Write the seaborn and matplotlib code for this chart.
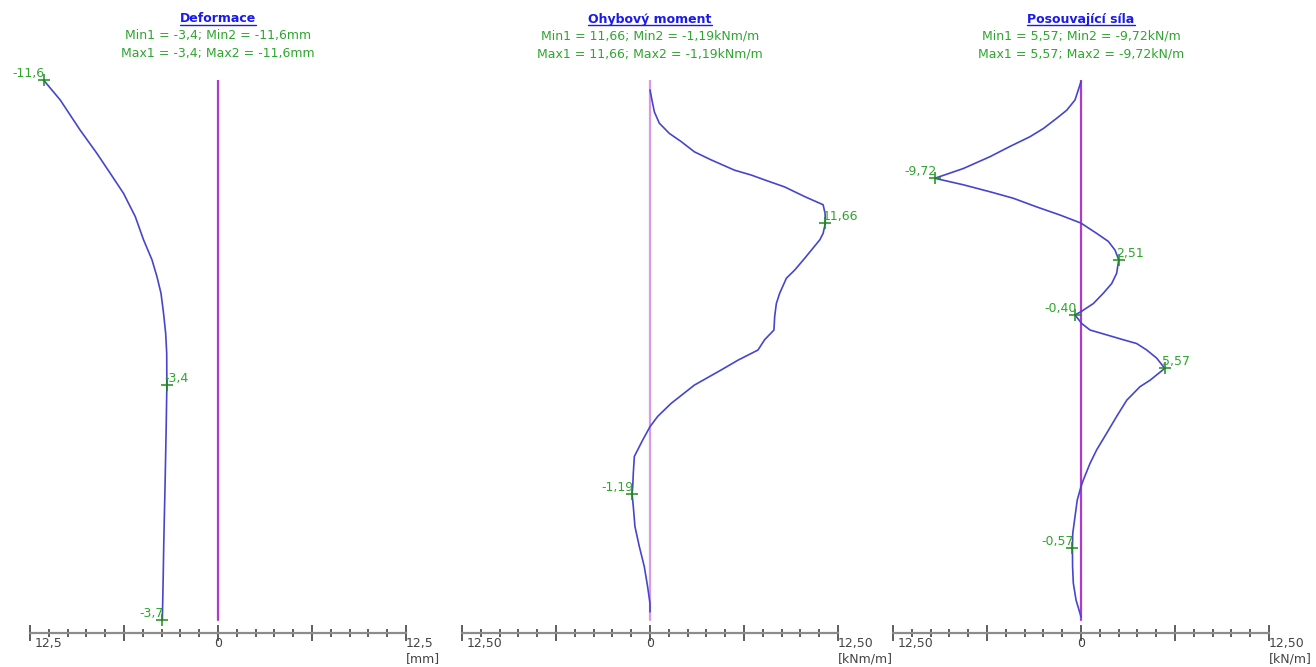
import numpy as np
import pandas as pd
import seaborn as sns
import matplotlib.pyplot as plt
from matplotlib.lines import Line2D
from matplotlib.ticker import MultipleLocator

# hloubka (relativni, 0 = hlava steny)
def_depth = [0.0, 0.37, 0.93, 1.36, 1.73, 2.10, 2.53, 2.96, 3.33, 3.64, 3.95, 4.32, 4.69, 5.06, 5.65,
             6.5, 7.5, 8.5, 9.3, 10.0]
def_val = [-11.6, -10.49, -9.16, -8.05, -7.16, -6.28, -5.5, -4.95, -4.39, -4.06, -3.79, -3.62, -3.48, -3.41, -3.4,
           -3.45, -3.52, -3.6, -3.65, -3.7]

mom_depth = [0.185, 0.37, 0.59, 0.80, 0.99, 1.14, 1.33, 1.48, 1.67, 1.76, 1.85, 1.98, 2.16, 2.31, 2.47, 2.65,
             2.84, 2.96, 3.15, 3.30, 3.52, 3.67, 3.95, 4.14, 4.38, 4.63, 4.81, 5.0, 5.19, 5.37, 5.65, 5.99,
             6.23, 6.42, 6.67, 6.85, 6.97, 7.28, 7.53, 7.67, 7.90, 8.27, 8.64, 9.01, 9.38, 9.69, 9.85]
mom_val = [0.0, 0.13, 0.29, 0.62, 1.29, 2.07, 2.95, 4.07, 5.62, 6.73, 7.62, 8.95, 10.29, 11.51, 11.64, 11.66,
           11.51, 11.29, 10.73, 10.29, 9.62, 9.07, 8.62, 8.4, 8.29, 8.24, 7.62, 7.18, 5.84, 4.73, 2.95, 1.4,
           0.51, 0.0, -0.49, -0.82, -1.04, -1.11, -1.15, -1.19, -1.11, -1.0, -0.71, -0.38, -0.16, 0.0, 0.0]

shr_depth = [0.03, 0.185, 0.37, 0.56, 0.71, 0.90, 1.05, 1.23, 1.42, 1.64, 1.82, 1.94, 2.07, 2.19, 2.35, 2.5,
             2.65, 2.84, 2.99, 3.15, 3.33, 3.58, 3.77, 3.95, 4.14, 4.29, 4.35, 4.51, 4.63, 4.72, 4.81, 4.88,
             5.0, 5.15, 5.34, 5.56, 5.68, 5.93, 6.23, 6.54, 6.85, 7.1, 7.41, 7.53, 7.78, 8.09, 8.4, 8.67,
             9.01, 9.32, 9.63, 9.94]
shr_val = [0.0, -0.18, -0.4, -0.95, -1.62, -2.51, -3.39, -4.72, -6.05, -7.83, -9.72, -7.83, -6.05, -4.5, -2.95,
           -1.4, 0.0, 1.04, 1.82, 2.26, 2.51, 2.37, 2.04, 1.48, 0.82, 0.0, -0.40, 0.05, 0.6, 1.71, 2.81, 3.7,
           4.37, 5.03, 5.57, 4.59, 3.92, 3.04, 2.37, 1.71, 1.04, 0.6, 0.15, 0.0, -0.25, -0.4, -0.55, -0.57,
           -0.56, -0.51, -0.33, 0.0]

# vyznacene extremy: hloubka, hodnota, popisek, strana popisku
def_marks = [(0.0, -11.6, '-11,6', 'l'), (5.65, -3.4, '-3,4', 'r'), (10.0, -3.7, '-3,7', 'l')]
mom_marks = [(2.65, 11.66, '11,66', 'r'), (7.67, -1.19, '-1,19', 'l')]
shr_marks = [(1.82, -9.72, '-9,72', 'l'), (3.33, 2.51, '2,51', 'r'), (4.35, -0.40, '-0,40', 'l'),
             (5.34, 5.57, '5,57', 'r'), (8.67, -0.57, '-0,57', 'l')]

titles = ['Deformace', 'Ohybový moment', 'Posouvající síla']
min_lines = ['Min1 = -3,4; Min2 = -11,6mm', 'Min1 = 11,66; Min2 = -1,19kNm/m', 'Min1 = 5,57; Min2 = -9,72kN/m']
max_lines = ['Max1 = -3,4; Max2 = -11,6mm', 'Max1 = 11,66; Max2 = -1,19kNm/m', 'Max1 = 5,57; Max2 = -9,72kN/m']
units = ['[mm]', '[kNm/m]', '[kN/m]']
end_labels = ['12,5', '12,50', '12,50']
x_limit = 12.5
wall_length = 10.0

sns.set_style("white")
plt.rcParams['font.family'] = ['DejaVu Sans']
plt.rcParams['font.size'] = 9

GREEN = '#2fa52f'
CURVE = '#4646cc'
wall_colors = ['#b03ad0', '#d79ae6', '#b03ad0']

fig = plt.figure(figsize=(13.16, 6.67), dpi=100)
lefts = [30 / 1316, 462 / 1316, 893 / 1316]
ax_w = 376 / 1316
ax_b = (667 - 633) / 667
ax_h = 553 / 667

panels = [(def_depth, def_val, def_marks), (mom_depth, mom_val, mom_marks), (shr_depth, shr_val, shr_marks)]
title_texts = []

for i, (depth, vals, marks) in enumerate(panels):
    ax = fig.add_axes([lefts[i], ax_b, ax_w, ax_h])
    df = pd.DataFrame({'hodnota': vals, 'hloubka': depth})

    # osa steny
    ax.plot([0, 0], [0, wall_length], color=wall_colors[i], lw=1.6, zorder=1)
    sns.lineplot(data=df, x='hodnota', y='hloubka', orient='y', sort=False, estimator=None,
                 color=CURVE, lw=1.2, ax=ax, zorder=2)

    for d, v, txt, side in marks:
        ax.plot(v, d, marker='+', ms=8, mew=1.1, color='#1f8a1f', clip_on=False, zorder=3)
        if side == 'l':
            ax.annotate(txt, (v, d), xytext=(1, 0), textcoords='offset points',
                        ha='right', va='bottom', color=GREEN, fontsize=9, annotation_clip=False)
        else:
            ax.annotate(txt, (v, d), xytext=(-2, 0), textcoords='offset points',
                        ha='left', va='bottom', color=GREEN, fontsize=9, annotation_clip=False)

    ax.set_xlim(-x_limit, x_limit)
    ax.set_ylim((633 - 80) / 54, 0)
    ax.set_yticks([])
    ax.set_xlabel('')
    ax.set_ylabel('')
    for s in ['left', 'right', 'top']:
        ax.spines[s].set_visible(False)
    ax.spines['bottom'].set_color('#8c8c8c')
    ax.spines['bottom'].set_linewidth(1.6)

    ax.xaxis.set_major_locator(MultipleLocator(x_limit / 2))
    ax.xaxis.set_minor_locator(MultipleLocator(x_limit / 10))
    ax.tick_params(axis='x', which='major', bottom=True, direction='inout', length=12, width=1.1,
                   color='#333333', labelbottom=False)
    ax.tick_params(axis='x', which='minor', bottom=True, direction='inout', length=6, width=1.1,
                   color='#333333')

    tr = ax.get_xaxis_transform()
    ax.annotate(end_labels[i], (-x_limit, 0), xycoords=tr, xytext=(3.5, -3), textcoords='offset points',
                ha='left', va='top', color='#444444', annotation_clip=False)
    ax.annotate('0', (0, 0), xycoords=tr, xytext=(0, -3), textcoords='offset points',
                ha='center', va='top', color='#444444', annotation_clip=False)
    ax.annotate(end_labels[i], (x_limit, 0), xycoords=tr, xytext=(0, -3), textcoords='offset points',
                ha='left', va='top', color='#444444', annotation_clip=False)
    ax.text(x_limit, -0.047, units[i], transform=tr, ha='left', va='center', color='#444444')

    t = ax.text(0, 1 + (80 - 19) / 553, titles[i], transform=tr, ha='center', va='center',
                color='#1a1aee', fontweight='bold', clip_on=False)
    title_texts.append(t)
    ax.text(0, 1 + (80 - 36) / 553, min_lines[i], transform=tr, ha='center', va='center', color=GREEN)
    ax.text(0, 1 + (80 - 54) / 553, max_lines[i], transform=tr, ha='center', va='center', color=GREEN)

# podtrzeni nadpisu
fig.canvas.draw()
renderer = fig.canvas.get_renderer()
for t in title_texts:
    bb = t.get_window_extent(renderer).transformed(fig.transFigure.inverted())
    fig.add_artist(Line2D([bb.x0, bb.x1], [bb.y0 + 0.001, bb.y0 + 0.001], transform=fig.transFigure,
                          color='#1a1aee', lw=1))

fig.savefig('out.png', dpi=100)
